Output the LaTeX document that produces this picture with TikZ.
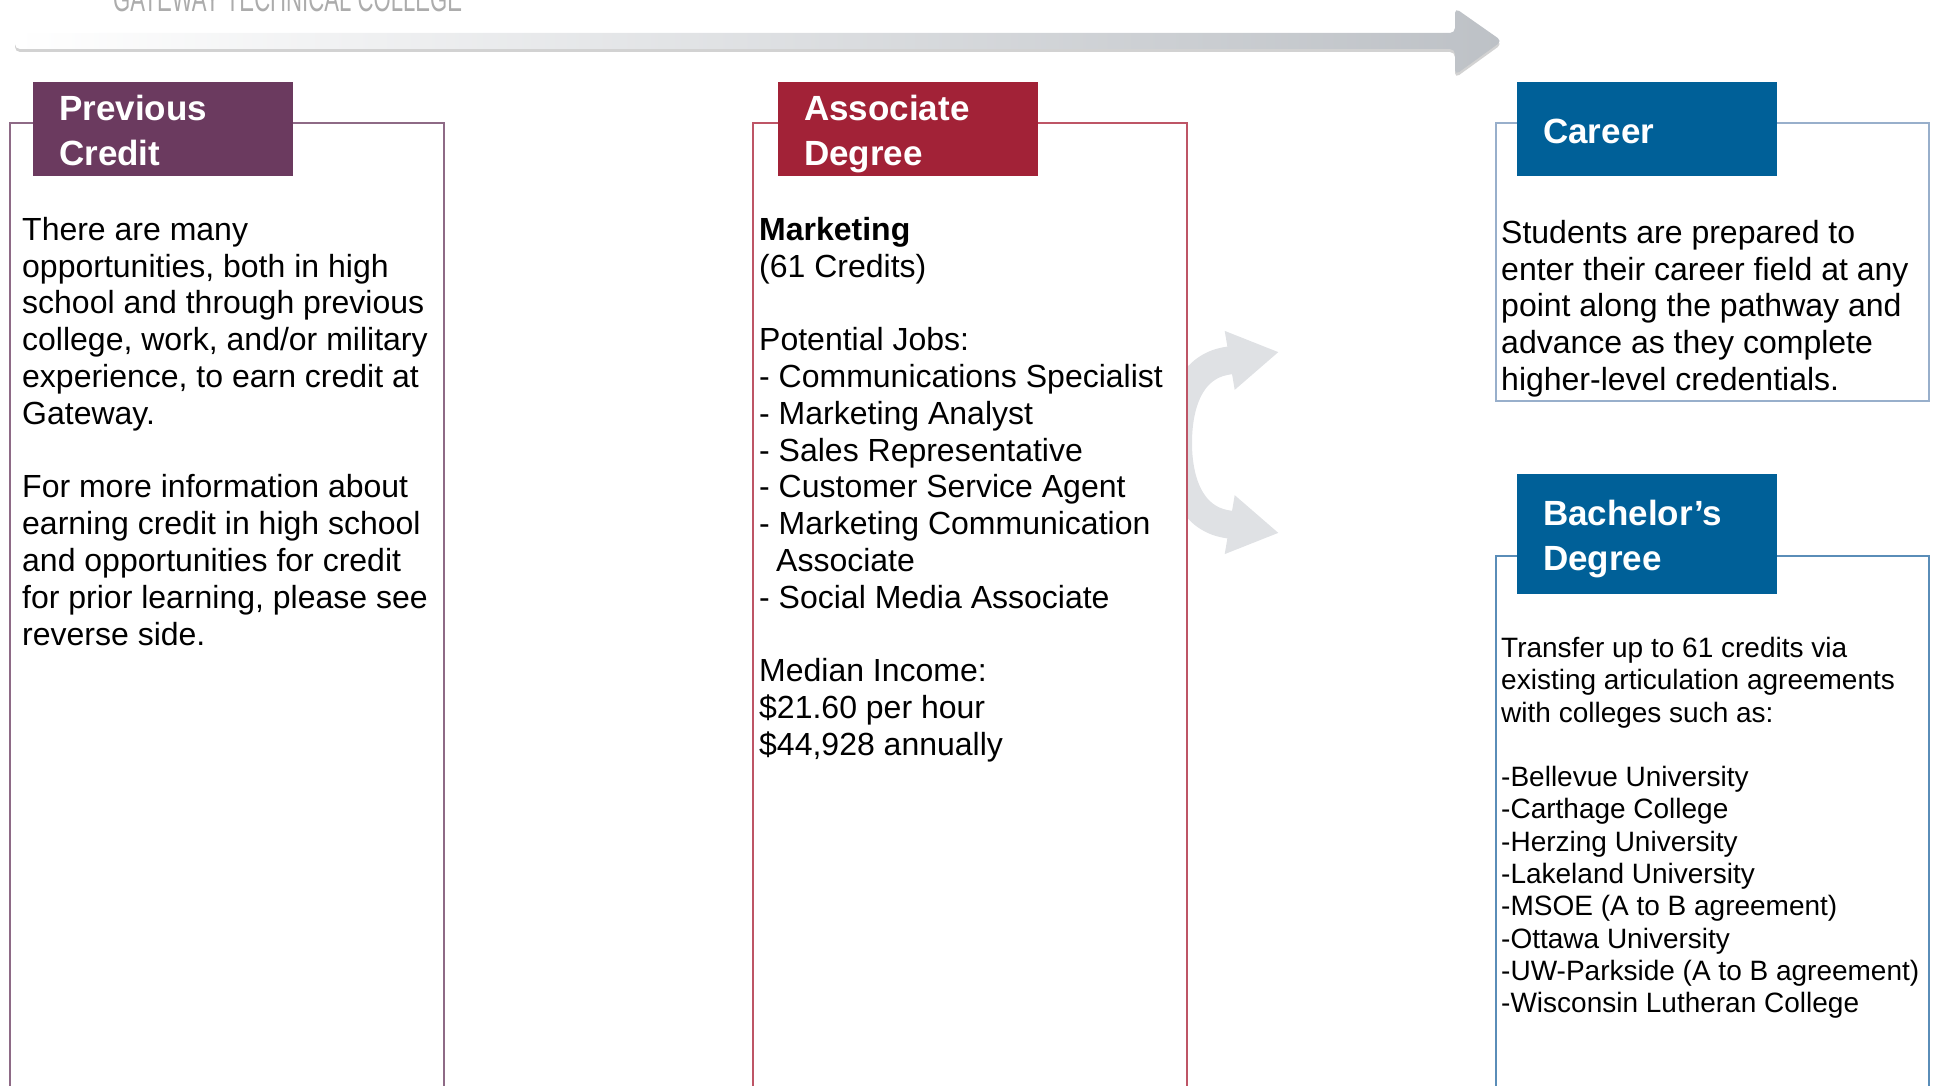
\documentclass[tikz,border=0pt]{standalone}
\usepackage{fontspec}
\usepackage{graphicx}
\setmainfont{Liberation Sans}
\usetikzlibrary{arrows.meta,positioning}
\definecolor{prevpurple}{HTML}{6B3A5F}
\definecolor{prevline}{HTML}{8E6A86}
\definecolor{assocred}{HTML}{A22237}
\definecolor{assocline}{HTML}{BE5566}
\definecolor{careerblue}{HTML}{006098}
\definecolor{careerline}{HTML}{98AFCB}
\definecolor{bachline}{HTML}{5A8DB8}
\definecolor{arrowgray}{HTML}{BDC1C6}
\definecolor{curvegray}{HTML}{DFE1E4}
\newcommand{\hdrtop}{\rule{0pt}{37pt}}
\newcommand{\hdrbot}{\rule[-9pt]{0pt}{9pt}}
\begin{document}
\begin{tikzpicture}[x=1pt,y=1pt,
  hdr/.style={rectangle, anchor=north west, text=white, font=\bfseries\fontsize{35pt}{44.5pt}\selectfont,
    minimum width=260pt, minimum height=94pt, text width=208pt, inner xsep=26pt, inner ysep=0pt, align=left},
  body/.style={anchor=north west, inner sep=0pt, align=left, font=\fontsize{32pt}{36.8pt}\selectfont},
  small/.style={body, font=\fontsize{28pt}{32.3pt}\selectfont},
  curv/.style={line width=28pt, curvegray, -{Triangle[length=50pt,width=56pt]}}]
\useasboundingbox (0,0) rectangle (1939,-1086);

\node[anchor=base west, inner sep=0pt, text=gray!65, font=\fontsize{36pt}{36pt}\selectfont] (title) at (113,-12)
  {\scalebox{0.615}[1]{GATEWAY TECHNICAL COLLEGE}};

\fill[gray!35, rounded corners=5pt] (15,-36) -- (1455,-36) -- (1455,-11) -- (1502,-44) -- (1455,-78) -- (1455,-52) -- (15,-52) -- cycle;
\shade[left color=white, right color=arrowgray, rounded corners=5pt] (15,-33) -- (1455,-33) -- (1455,-8) -- (1502,-41) -- (1455,-75) -- (1455,-49) -- (15,-49) -- cycle;

\coordinate (fork) at (1178,-443);
\coordinate (careerbase) at (1226,-361);
\coordinate (careertip) at (1279,-352);
\coordinate (bachbase) at (1226,-524);
\coordinate (bachtip) at (1279,-533);
\draw[curv] (fork) to[out=90,in=190] (careerbase) -- (careertip);
\draw[curv] (fork) to[out=270,in=170] (bachbase) -- (bachtip);

\draw[prevline, line width=1.5pt, fill=white] (10,-123) rectangle (444,-1096);
\draw[assocline, line width=1.5pt, fill=white] (753,-123) rectangle (1187,-1096);
\draw[careerline, line width=1.5pt, fill=white] (1496,-123) rectangle (1929,-401);
\draw[bachline, line width=1.5pt, fill=white] (1496,-556) rectangle (1929,-1096);

\node[hdr, fill=prevpurple] (prevhdr) at (33,-82) {\hdrtop Previous\\Credit\hdrbot};
\node[hdr, fill=assocred] (assochdr) at (778,-82) {\hdrtop Associate\\Degree\hdrbot};
\node[hdr, fill=careerblue] (careerhdr) at (1517,-82) {\hdrtop Career\hdrbot};
\node[hdr, fill=careerblue, minimum height=120pt] (bachhdr) at (1517,-474) {\hdrtop Bachelor’s\\Degree\hdrbot};

\node[body] (prevtxt) at (22,-217) {There are many\\opportunities, both in high\\school and through previous\\college, work, and/or military\\experience, to earn credit at\\Gateway.\\[36.8pt]For more information about\\earning credit in high school\\and opportunities for credit\\for prior learning, please see\\reverse side.};
\node[body] (assoctxt) at (759,-217) {\textbf{Marketing}\\(61 Credits)\\[36.8pt]Potential Jobs:\\- Communications Specialist\\- Marketing Analyst\\- Sales Representative\\- Customer Service Agent\\- Marketing Communication\\\hspace*{17pt}Associate\\- Social Media Associate\\[36.8pt]Median Income:\\\$21.60 per hour\\\$44,928 annually};
\node[body] (careertxt) at (1501,-220) {Students are prepared to\\enter their career field at any\\point along the pathway and\\advance as they complete\\higher-level credentials.};
\node[small] (bachtxt) at (1501,-637) {Transfer up to 61 credits via\\existing articulation agreements\\with colleges such as:\\[32.3pt]-Bellevue University\\-Carthage College\\-Herzing University\\-Lakeland University\\-MSOE (A to B agreement)\\-Ottawa University\\-UW-Parkside (A to B agreement)\\-Wisconsin Lutheran College};
\end{tikzpicture}
\end{document}
